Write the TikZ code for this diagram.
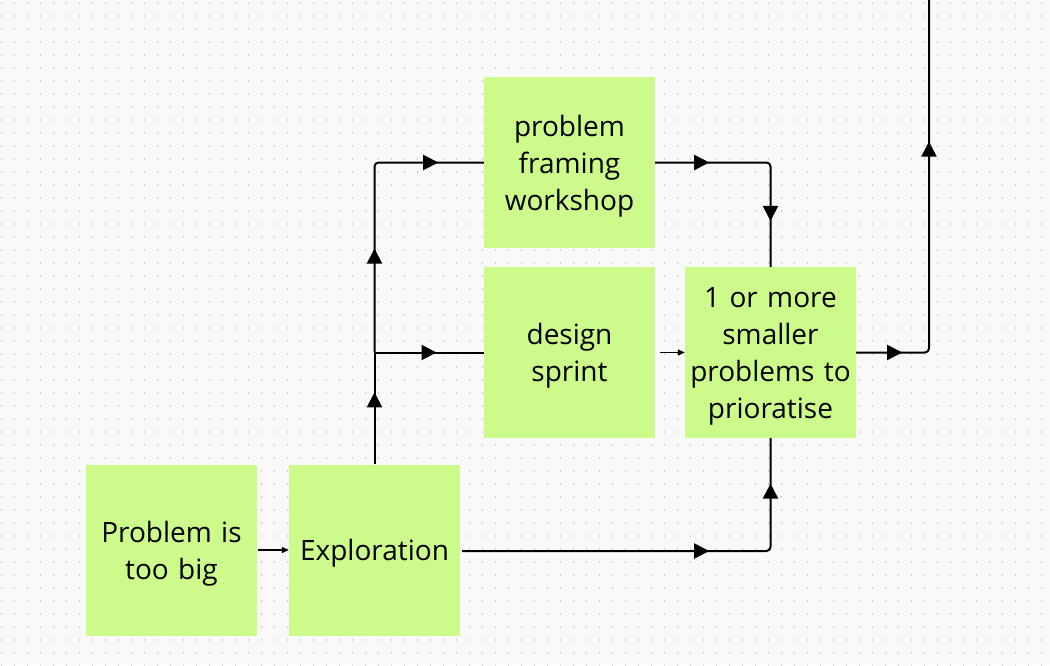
\documentclass[tikz,border=0pt]{standalone}
\usepackage{fontspec}
\setmainfont{Open Sans}
\usetikzlibrary{arrows.meta,decorations.markings}

\definecolor{stickygreen}{RGB}{204,251,140}
\definecolor{boardgray}{RGB}{249,249,249}
\definecolor{dotgray}{RGB}{196,196,196}

\tikzset{
  stickytext/.style={inner sep=0pt, text width=168pt, align=center, font=\fontsize{28}{37}\selectfont, yshift=-3.5pt},
  sticky/.style={fill=stickygreen, minimum width=171pt, minimum height=171pt, inner sep=0pt, label={[stickytext]center:#1}},
  flow/.style={line width=2pt, rounded corners=4pt},
  thinflow/.style={line width=1.3pt, -{Triangle[length=7pt,width=6pt]}},
  tipat/.style={postaction={decorate, decoration={markings, mark=at position #1 with {\arrow{Triangle[length=15pt,width=15pt]}}}}},
}

\begin{document}
\begin{tikzpicture}[x=1pt, y=-1pt]

\fill[boardgray] (0,0) rectangle (1050,665);
\useasboundingbox (0,0) rectangle (1050,665);

\foreach \i in {0,...,80}
  \foreach \j in {0,...,51}
    \fill[dotgray] (1.5+13*\i, 3+13*\j) circle (0.8);

\node[sticky={Problem is\\too big}] (big) at (171.5, 550) {};

\node[sticky={Exploration}] (explore) at (374.5, 550) {};

\node[sticky={problem\\framing\\workshop}] (framing) at (569.5, 162.5) {};

\node[sticky={design\\sprint}] (sprint) at (569.5, 352.5) {};

\node[sticky={1 or more\\smaller\\problems to\\prioratise}] (smaller) at (770.5, 352.5) {};

\coordinate (split) at (374.5, 352.5);
\coordinate (out) at (929, 0);

\draw[thinflow] ([xshift=1pt]big.east) -- (explore.west);

\draw[flow, tipat=72pt] (explore.north) -- (split);

\draw[flow, tipat=104pt, tipat=252pt] (split) |- (framing.west);

\draw[flow, tipat=62pt] (split) -- (sprint.west);

\draw[flow, tipat=54pt, tipat=172pt] (framing.east) -| (smaller.north);

\draw[thinflow] ([xshift=5pt]sprint.east) -- (smaller.west);

\draw[flow, tipat=247pt, tipat=374pt] ([xshift=2pt, yshift=-1pt]explore.east) -| (smaller.south);

\draw[flow, tipat=46pt, tipat=282pt] (smaller.east) -| (out);

\end{tikzpicture}
\end{document}
